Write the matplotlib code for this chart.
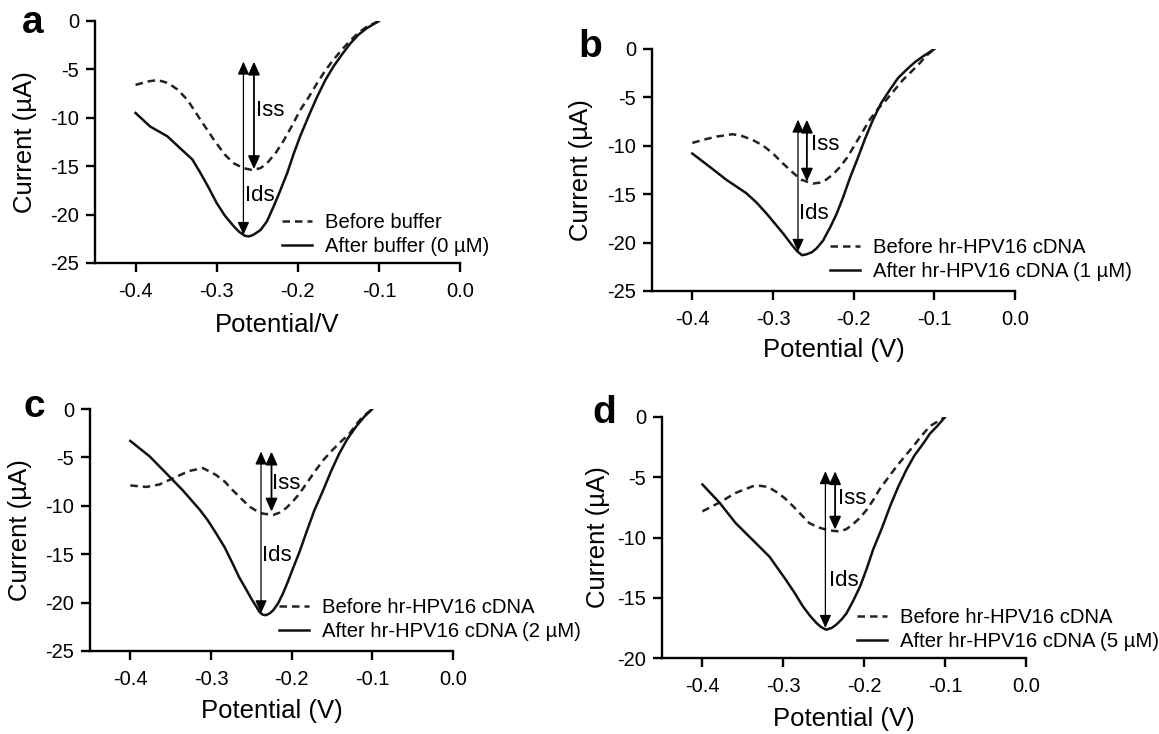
import matplotlib
matplotlib.use("Agg")
import matplotlib.pyplot as plt

plt.rcParams['font.family'] = ['Liberation Sans', 'DejaVu Sans']

# ---- panel a ----
a_before_x = [-0.4, -0.385, -0.373, -0.36, -0.348, -0.336, -0.32, -0.304, -0.29, -0.279, -0.267, -0.256,
              -0.246, -0.238, -0.227, -0.217, -0.207, -0.197, -0.186, -0.176, -0.166, -0.156, -0.145,
              -0.135, -0.125, -0.115, -0.1]
a_before_y = [-6.6, -6.25, -6.1, -6.4, -7.1, -8.15, -10.2, -12.2, -13.8, -14.7, -15.2, -15.4,
              -15.2, -14.7, -13.6, -12.3, -10.8, -9.2, -7.8, -6.4, -5.1, -4.0, -2.9,
              -2.0, -1.2, -0.6, 0.0]
a_after_x = [-0.4, -0.382, -0.361, -0.343, -0.33, -0.32, -0.31, -0.3, -0.29, -0.279, -0.272, -0.265,
             -0.26, -0.255, -0.246, -0.238, -0.23, -0.222, -0.213, -0.205, -0.197, -0.186, -0.176,
             -0.166, -0.156, -0.145, -0.135, -0.125, -0.115, -0.1]
a_after_y = [-9.5, -10.9, -11.9, -13.3, -14.3, -15.7, -17.2, -18.8, -20.1, -21.2, -21.8, -22.2,
             -22.25, -22.1, -21.6, -20.7, -19.2, -17.6, -15.7, -13.7, -11.9, -9.7, -7.8,
             -6.1, -4.7, -3.4, -2.3, -1.4, -0.75, 0.0]

# ---- panel b ----
b_before_x = [-0.4, -0.385, -0.37, -0.35, -0.338, -0.325, -0.312, -0.3, -0.288, -0.275, -0.265, -0.258,
              -0.25, -0.242, -0.234, -0.225, -0.217, -0.208, -0.2, -0.19, -0.18, -0.17, -0.159,
              -0.149, -0.139, -0.128, -0.118, -0.11, -0.1]
b_before_y = [-9.7, -9.35, -9.05, -8.8, -9.0, -9.4, -10.0, -10.8, -11.8, -12.8, -13.5, -13.7,
              -13.9, -13.8, -13.5, -12.9, -12.2, -11.2, -10.1, -8.7, -7.3, -6.2, -5.2,
              -4.2, -3.2, -2.3, -1.45, -0.7, 0.0]
b_after_x = [-0.4, -0.378, -0.358, -0.333, -0.32, -0.308, -0.297, -0.287, -0.277, -0.27, -0.264,
             -0.258, -0.252, -0.246, -0.238, -0.229, -0.221, -0.213, -0.205, -0.196, -0.186, -0.176,
             -0.166, -0.155, -0.145, -0.134, -0.124, -0.114, -0.1]
b_after_y = [-10.8, -12.2, -13.5, -14.9, -15.9, -17.0, -18.1, -19.1, -20.2, -20.9, -21.3,
             -21.2, -21.0, -20.6, -19.8, -18.4, -17.0, -15.3, -13.4, -11.5, -9.3, -7.3,
             -5.6, -4.2, -3.0, -2.1, -1.35, -0.76, 0.0]

# ---- panel c ----
c_before_x = [-0.4, -0.38, -0.364, -0.343, -0.327, -0.31, -0.294, -0.283, -0.273, -0.262, -0.252,
              -0.244, -0.236, -0.223, -0.215, -0.207, -0.198, -0.19, -0.18, -0.17, -0.16, -0.149,
              -0.138, -0.128, -0.12, -0.112, -0.1]
c_before_y = [-7.9, -8.05, -7.8, -7.0, -6.4, -6.1, -6.8, -7.5, -8.4, -9.3, -10.1,
              -10.5, -10.8, -10.95, -10.7, -10.25, -9.5, -8.7, -7.5, -6.3, -5.2, -4.2,
              -3.3, -2.5, -1.6, -0.8, 0.0]
c_after_x = [-0.4, -0.376, -0.356, -0.335, -0.314, -0.304, -0.294, -0.283, -0.273, -0.265, -0.256,
             -0.25, -0.244, -0.24, -0.236, -0.232, -0.227, -0.223, -0.217, -0.211, -0.205, -0.199,
             -0.19, -0.182, -0.172, -0.161, -0.151, -0.141, -0.131, -0.12, -0.11, -0.1]
c_after_y = [-3.3, -4.9, -6.6, -8.4, -10.4, -11.5, -12.8, -14.3, -16.0, -17.4, -18.7,
             -19.6, -20.4, -20.95, -21.25, -21.3, -21.1, -20.8, -20.1, -19.1, -17.9, -16.6,
             -14.7, -12.8, -10.5, -8.4, -6.4, -4.6, -3.1, -1.8, -0.8, 0.0]

# ---- panel d ----
d_before_x = [-0.4, -0.379, -0.359, -0.338, -0.33, -0.319, -0.309, -0.298, -0.288, -0.278, -0.268,
              -0.257, -0.247, -0.238, -0.23, -0.222, -0.214, -0.205, -0.197, -0.189, -0.181, -0.17,
              -0.16, -0.149, -0.139, -0.129, -0.119, -0.1]
d_before_y = [-7.83, -7.1, -6.3, -5.75, -5.7, -5.8, -6.2, -6.75, -7.4, -8.1, -8.8,
              -9.15, -9.35, -9.45, -9.5, -9.3, -8.9, -8.35, -7.7, -6.9, -6.0, -5.0,
              -4.1, -3.2, -2.4, -1.55, -0.77, 0.0]
d_after_x = [-0.4, -0.379, -0.359, -0.338, -0.317, -0.297, -0.286, -0.276, -0.267, -0.259, -0.253,
             -0.247, -0.24, -0.234, -0.228, -0.222, -0.214, -0.205, -0.197, -0.189, -0.178, -0.168,
             -0.158, -0.148, -0.138, -0.127, -0.119, -0.11, -0.1]
d_after_y = [-5.6, -7.1, -8.8, -10.2, -11.6, -13.5, -14.6, -15.7, -16.5, -17.1, -17.45,
             -17.65, -17.5, -17.2, -16.8, -16.3, -15.3, -14.05, -12.6, -11.0, -9.2, -7.4,
             -5.8, -4.4, -3.2, -2.2, -1.4, -0.77, 0.0]

letters = ['a', 'b', 'c', 'd']
before_labels = ['Before buffer', 'Before hr-HPV16 cDNA', 'Before hr-HPV16 cDNA', 'Before hr-HPV16 cDNA']
after_labels = ['After buffer (0 µM)', 'After hr-HPV16 cDNA (1 µM)',
                'After hr-HPV16 cDNA (2 µM)', 'After hr-HPV16 cDNA (5 µM)']
xlabels = ['Potential/V', 'Potential (V)', 'Potential (V)', 'Potential (V)']
ymins = [-25, -25, -25, -20]

# arrow positions: Ids x, Iss x, top, Ids bottom, Iss bottom
ids_x = [-0.267, -0.269, -0.238, -0.248]
iss_x = [-0.254, -0.258, -0.225, -0.236]
arrow_top = [-4.2, -7.3, -4.4, -4.5]
ids_bottom = [-22.1, -20.95, -21.1, -17.5]
iss_bottom = [-15.3, -13.7, -10.6, -9.35]
iss_text = [(-0.251, -9.2), (-0.253, -9.9), (-0.224, -7.7), (-0.232, -6.8)]
ids_text = [(-0.265, -18.0), (-0.268, -17.0), (-0.237, -15.1), (-0.243, -13.6)]

before = [(a_before_x, a_before_y), (b_before_x, b_before_y), (c_before_x, c_before_y), (d_before_x, d_before_y)]
after = [(a_after_x, a_after_y), (b_after_x, b_after_y), (c_after_x, c_after_y), (d_after_x, d_after_y)]

W, H = 1159, 734
# axes boxes in pixels: left, right, top, bottom
boxes = [(95, 460, 21, 263), (652, 1015, 49, 291), (90, 453, 409, 651), (662, 1026, 417, 658)]
ylab_x = [-0.159, -0.163, -0.160, -0.143]
xlab_y = [-0.205, -0.195, -0.2, -0.205]
# legend anchor (handle left px, first row top px)
leg_pos = [(282, 213), (830, 238), (279, 598), (857, 608)]
letter_pos = [(33, 33), (590, 57), (34, 417), (604, 423)]

fig = plt.figure(figsize=(W / 100, H / 100), dpi=100)

for i in range(4):
    l, r, t, b = boxes[i]
    ax = fig.add_axes([l / W, 1 - b / H, (r - l) / W, (b - t) / H])
    ax.plot(before[i][0], before[i][1], color='#222222', lw=1.8, ls=(0, (3, 2)),
            solid_joinstyle='round', label=before_labels[i])
    ax.plot(after[i][0], after[i][1], color='#111111', lw=1.8, solid_joinstyle='round',
            label=after_labels[i])

    ax.annotate('', xy=(ids_x[i], ids_bottom[i]), xytext=(ids_x[i], arrow_top[i]),
                arrowprops=dict(arrowstyle='<|-|>,head_length=0.6,head_width=0.27', lw=0.9,
                                color='k', shrinkA=0, shrinkB=0, mutation_scale=13))
    ax.annotate('', xy=(iss_x[i], iss_bottom[i]), xytext=(iss_x[i], arrow_top[i]),
                arrowprops=dict(arrowstyle='<|-|>,head_length=0.6,head_width=0.27', lw=1.3,
                                color='k', shrinkA=0, shrinkB=0, mutation_scale=13))
    ax.text(iss_text[i][0], iss_text[i][1], 'Iss', fontsize=16, ha='left', va='center')
    ax.text(ids_text[i][0], ids_text[i][1], 'Ids', fontsize=16, ha='left', va='center')

    ax.set_xlim(-0.45, 0.0)
    ax.set_ylim(ymins[i], 0)
    ax.set_xticks([-0.4, -0.3, -0.2, -0.1, 0.0])
    ax.set_xticklabels(['-0.4', '-0.3', '-0.2', '-0.1', '0.0'])
    ax.set_yticks(list(range(ymins[i], 1, 5)))
    ax.set_yticklabels([str(v) for v in range(ymins[i], 1, 5)])
    for s in ['top', 'right']:
        ax.spines[s].set_visible(False)
    for s in ['left', 'bottom']:
        ax.spines[s].set_linewidth(1.7)
    ax.tick_params(direction='out', length=6.5, width=1.7, labelsize=14.5, pad=5)
    ax.tick_params(axis='x', pad=7)

    ax.set_ylabel('Current (µA)', fontsize=18.5)
    ax.yaxis.set_label_coords(ylab_x[i], 0.5)
    ax.set_xlabel(xlabels[i], fontsize=18.5)
    ax.xaxis.set_label_coords(0.5, xlab_y[i])

    lx, ly = leg_pos[i]
    ax.legend(loc='upper left', bbox_to_anchor=((lx - l) / (r - l), (b - ly) / (b - t)),
              frameon=False, fontsize=14.6, borderpad=0, borderaxespad=0,
              handlelength=1.5, handletextpad=0.6, labelspacing=0.25)

    fig.text(letter_pos[i][0] / W, 1 - letter_pos[i][1] / H, letters[i], fontsize=28,
             fontweight='bold', ha='center', va='baseline')

fig.savefig('out.png', dpi=100)
